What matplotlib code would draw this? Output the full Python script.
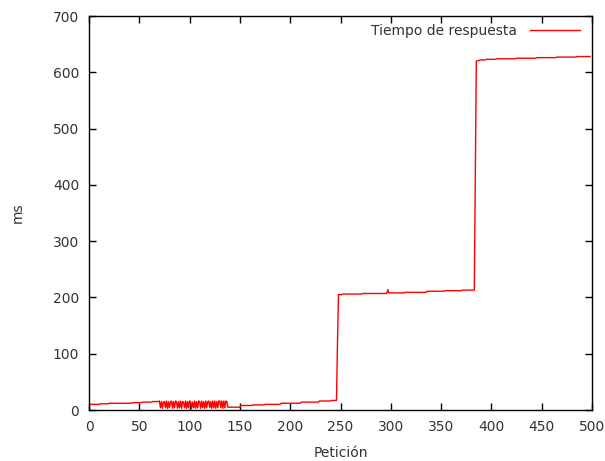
import numpy as np
import matplotlib
matplotlib.use("Agg")
import matplotlib.pyplot as plt

# Run-length description of the response-time series (ms) per request
levels_a = [10, 11, 12, 13, 14, 15]
counts_a = [11, 9, 23, 10, 10, 7]

osc_values = [16, 4, 15, 3, 14, 15, 4, 16, 3, 15, 4, 14, 16, 3, 15, 4, 16, 14, 3, 15,
              4, 16, 3, 15, 14, 4, 16, 3, 15, 4, 16, 15, 3, 14, 4, 16, 3, 15, 4, 16,
              15, 3, 16, 4, 15, 3, 16, 4, 15, 16, 4, 15, 3, 16, 4, 16, 3, 15, 4, 16,
              16, 4, 16, 3, 16, 4, 16, 15]

levels_b = [5, 8, 9, 10, 12, 14, 16, 17]
counts_b = [13, 12, 12, 16, 20, 18, 12, 6]

jump1 = [120]

levels_c = [205, 206, 207, 214, 208, 209, 211, 212, 213]
counts_c = [4, 20, 25, 1, 16, 22, 18, 17, 13]

jump2 = [416]

levels_d = [620, 621, 622, 623, 624, 625, 626, 627, 628]
counts_d = [2, 2, 6, 10, 20, 20, 20, 20, 14]

series = np.concatenate([
    np.repeat(levels_a, counts_a),
    osc_values,
    np.repeat(levels_b, counts_b),
    jump1,
    np.repeat(levels_c, counts_c),
    jump2,
    np.repeat(levels_d, counts_d),
]).astype(float)
requests = np.arange(len(series))

xticks = list(range(0, 501, 50))
yticks = list(range(0, 701, 100))

plt.rcParams['font.family'] = ['DejaVu Sans']
fig = plt.figure(figsize=(6.05, 4.61), dpi=100)
ax = fig.add_axes([89/605, (461-410)/461, (592-89)/605, (410-16)/461])
ax.plot(requests, series, color='#ff0000', linewidth=1.0, label='Tiempo de respuesta')
ax.set_xlim(0, 500)
ax.set_ylim(0, 700)
ax.set_xticks(xticks)
ax.set_yticks(yticks)
ax.tick_params(direction='in', top=True, right=True, length=5, width=1,
               labelsize=10, colors='black', labelcolor='#333333', pad=7)
for s in ax.spines.values():
    s.set_linewidth(1.0)
ax.set_xlabel('Petición', fontsize=10, color='#333333', labelpad=9)
ax.set_ylabel('ms', fontsize=10, color='#333333', labelpad=20)
leg = ax.legend(loc='upper right', bbox_to_anchor=(1.0, 1.0 + 4/394), frameon=False,
                markerfirst=False, fontsize=10,
                handlelength=3.6, borderaxespad=0.45, handletextpad=0.95)
for t in leg.get_texts():
    t.set_color('#333333')
fig.savefig('out.png', dpi=100)
